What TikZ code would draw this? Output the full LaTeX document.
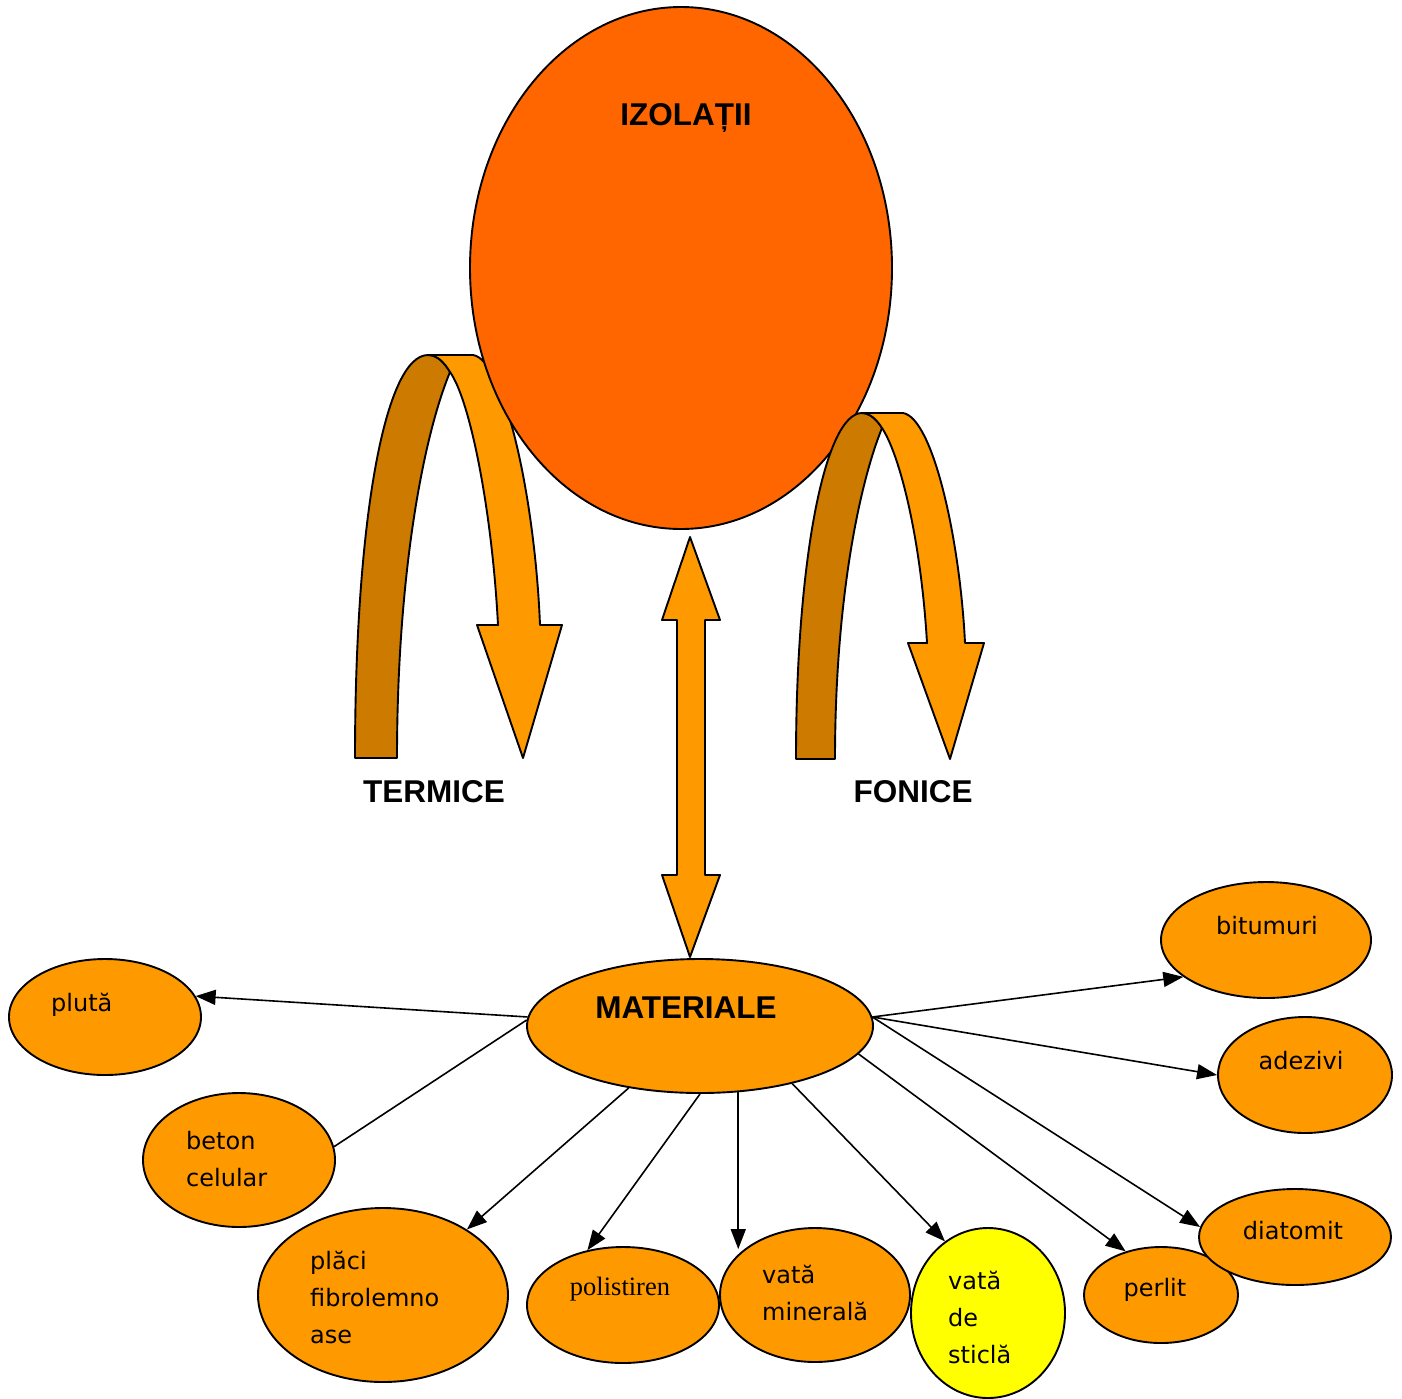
\documentclass[tikz,border=0pt]{standalone}
\usepackage{fontspec}
\usetikzlibrary{shapes.geometric,arrows.meta}
\newfontfamily\arialfont{Liberation Sans}
\newfontfamily\seriffont{Liberation Serif}
\newfontfamily\scrisfont{DejaVu Sans}
\definecolor{rosuportocaliu}{HTML}{FF6600}
\definecolor{portocaliu}{HTML}{FF9900}
\definecolor{portocaliuinchis}{HTML}{CC7A00}
\definecolor{galben}{HTML}{FFFF00}
\tikzset{
  bula/.style={ellipse, draw, fill=portocaliu, line width=1.9pt, inner sep=0pt},
  titlu/.style={font=\arialfont\bfseries\fontsize{31.5}{38}\selectfont, anchor=base, inner sep=0pt},
  scris/.style={font=\scrisfont\fontsize{24}{37}\selectfont, align=left, anchor=base west, inner sep=0pt},
  sageata/.style={-{Triangle[length=20pt,width=15pt]}, line width=1.6pt},
  forma/.style={draw, line width=1.9pt, line join=round},
}
\begin{document}
\begin{tikzpicture}[x=1pt,y=-1pt]
    \useasboundingbox (0,0) rectangle (1402,1398);
    \draw[forma, fill=portocaliuinchis] (355,758) .. controls (355,520) and (385,355) .. (428,355)
        .. controls (437,355) and (444,362) .. (450,372) .. controls (422,440) and (397,580) .. (397,758) -- cycle;
    \draw[forma, fill=portocaliu] (428,355) -- (473,355) .. controls (505,360) and (535,500) .. (540,625)
        -- (562,625) -- (523,758) -- (477,625) -- (498,625) .. controls (492,510) and (470,400) .. (450,372)
        .. controls (444,362) and (437,355) .. (428,355) -- cycle;
    \node[bula, fill=rosuportocaliu, minimum width=422pt, minimum height=522pt] (izolatii) at (681,268) {};
    \draw[forma, fill=portocaliuinchis] (796,759) .. controls (796,560) and (825,413) .. (862,413)
        .. controls (870,413) and (877,420) .. (882,428) .. controls (857,490) and (835,610) .. (835,759) -- cycle;
    \draw[forma, fill=portocaliu] (862,413) -- (903,413) .. controls (933,418) and (960,540) .. (965,643)
        -- (984,643) -- (950,759) -- (908,643) -- (927,643) .. controls (921,540) and (900,455) .. (882,428)
        .. controls (877,420) and (870,413) .. (862,413) -- cycle;
    \draw[forma, fill=portocaliu] (690,537) -- (720,620) -- (705,620) -- (705,875) -- (720,875) -- (690,957)
        -- (662,875) -- (677,875) -- (677,620) -- (662,620) -- cycle;

    \node[bula, minimum width=346pt, minimum height=134pt] (materiale) at (700,1026) {};
    \node[bula, minimum width=192pt, minimum height=116pt] (pluta) at (105,1017) {};
    \node[bula, minimum width=192pt, minimum height=134pt] (beton) at (239,1160) {};
    \node[bula, minimum width=250pt, minimum height=174pt] (placi) at (383,1295) {};
    \node[bula, minimum width=192pt, minimum height=116pt] (polistiren) at (623,1305) {};
    \node[bula, minimum width=190pt, minimum height=134pt] (vatamin) at (815,1295) {};
    \node[bula, fill=galben, minimum width=154pt, minimum height=170pt] (vatasticla) at (988,1313) {};
    \node[bula, minimum width=154pt, minimum height=96pt] (perlit) at (1161,1295) {};
    \node[bula, minimum width=192pt, minimum height=96pt] (diatomit) at (1295,1237) {};
    \node[bula, minimum width=174pt, minimum height=116pt] (adezivi) at (1305,1075) {};
    \node[bula, minimum width=210pt, minimum height=116pt] (bitumuri) at (1266,940) {};

    \draw[sageata] (materiale.177) -- (pluta.13);
    \draw[line width=1.6pt] (materiale.178) -- (beton.8);
    \draw[sageata] (materiale.221) -- (placi.38);
    \draw[sageata] (materiale.270) -- (polistiren.123);
    \draw[sageata] (materiale.300) -- (materiale.300 |- vatamin.147);
    \draw[sageata] (materiale.328) -- (vatasticla.121);
    \draw[sageata] (materiale.350) -- (perlit.129);
    \draw[sageata] (materiale.3) -- (diatomit.174);
    \draw[sageata] (materiale.3) -- (adezivi.180);
    \draw[sageata] (materiale.3) -- (bitumuri.204);

    \node[titlu] (tizolatii) at (686,125) {IZOLAȚII};
    \node[titlu] (termice) at (434,802) {TERMICE};
    \node[titlu] (fonice) at (913,802) {FONICE};
    \node[titlu] (tmateriale) at (686,1018) {MATERIALE};
    \node[scris] (tpluta) at (51,1011) {plută};
    \node[scris] (tbeton) at (186,1186) {beton\\celular};
    \node[scris] (tplaci) at (310,1343) {plăci\\fibrolemno\\ase};
    \node[scris, font=\seriffont\fontsize{26.5}{32}\selectfont, anchor=base] (tpolistiren) at (620,1295) {polistiren};
    \node[scris] (tvatamin) at (762,1320) {vată\\minerală};
    \node[scris] (tvatasticla) at (948,1363) {vată\\de\\sticlă};
    \node[scris, anchor=base] (tperlit) at (1155,1296) {perlit};
    \node[scris, anchor=base] (tdiatomit) at (1293,1239) {diatomit};
    \node[scris, anchor=base] (tadezivi) at (1301,1069) {adezivi};
    \node[scris, anchor=base] (tbitumuri) at (1267,934) {bitumuri};
\end{tikzpicture}
\end{document}
